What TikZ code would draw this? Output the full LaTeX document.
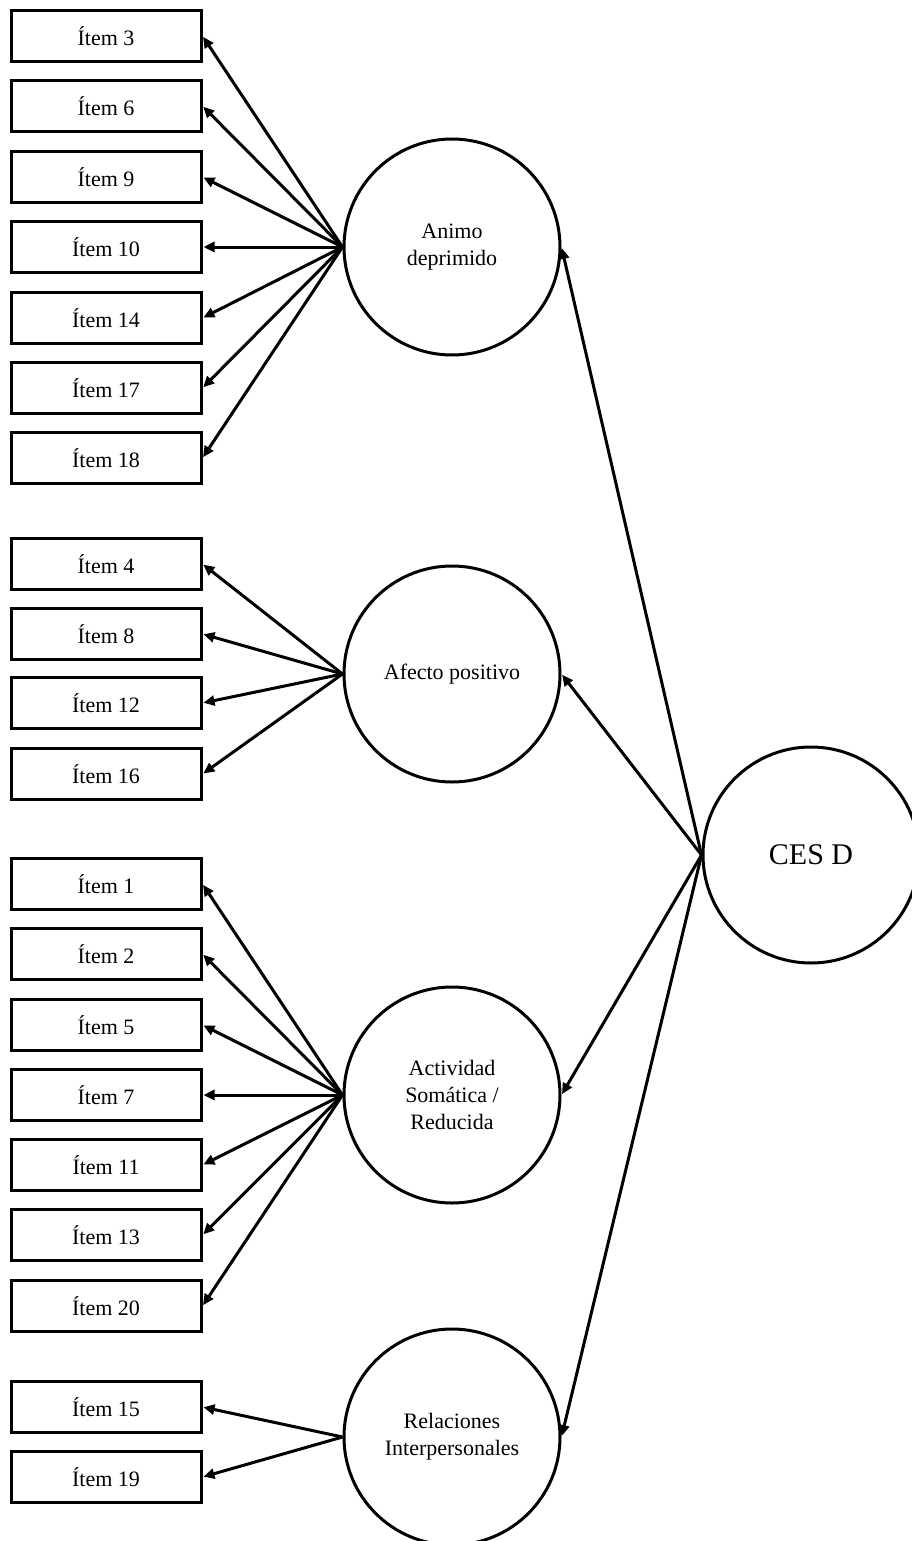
\documentclass[tikz,border=0pt]{standalone}
\usepackage{fontspec}
\setmainfont{Liberation Serif}
\usetikzlibrary{arrows.meta}
\begin{document}
\begin{tikzpicture}[x=1pt,y=-1pt,
  itembox/.style={draw, line width=3pt, minimum width=190pt, minimum height=51pt,
    inner sep=0pt, font=\fontsize{22}{26}\selectfont},
  factor/.style={draw, circle, line width=3pt, minimum size=216pt, inner sep=0pt,
    align=center, font=\fontsize{22}{27}\selectfont},
  load/.style={line width=3pt, shorten >=1pt, -{Triangle[length=11pt,width=10pt]}}]
\useasboundingbox (0,0) rectangle (912,1541);
\clip (0,0) rectangle (912,1541);

% first-order factors
\node[factor] (ad) at (452,247) {Animo\\deprimido};
\node[factor] (ap) at (452,674) {Afecto positivo};
\node[factor] (as) at (452,1095) {Actividad\\Somática /\\Reducida};
\node[factor] (ri) at (452,1437) {Relaciones\\Interpersonales};

% second-order factor
\node[factor, font=\fontsize{30}{34}\selectfont] (ces) at (811,855) {CES D};

% items
\foreach \n/\y in {3/36, 6/106, 9/177, 10/247, 14/318, 17/388, 18/458}
  \node[itembox] (i\n) at (106,\y) {Ítem \n};
\foreach \n/\y in {4/564, 8/634, 12/703, 16/774}
  \node[itembox] (i\n) at (106,\y) {Ítem \n};
\foreach \n/\y in {1/884, 2/954, 5/1025, 7/1095, 11/1165, 13/1235, 20/1306}
  \node[itembox] (i\n) at (106,\y) {Ítem \n};
\foreach \n/\y in {15/1407, 19/1477}
  \node[itembox] (i\n) at (106,\y) {Ítem \n};

% loadings
\foreach \n in {3,6,9,10,14,17,18}
  \draw[load] (ad.west) -- (i\n.east);
\foreach \n in {4,8,12,16}
  \draw[load] (ap.west) -- (i\n.east);
\foreach \n in {1,2,5,7,11,13,20}
  \draw[load] (as.west) -- (i\n.east);
\foreach \n in {15,19}
  \draw[load] (ri.west) -- (i\n.east);

% higher-order loadings
\foreach \f in {ad,ap,as,ri}
  \draw[load] (ces.west) -- (\f.east);
\end{tikzpicture}
\end{document}
